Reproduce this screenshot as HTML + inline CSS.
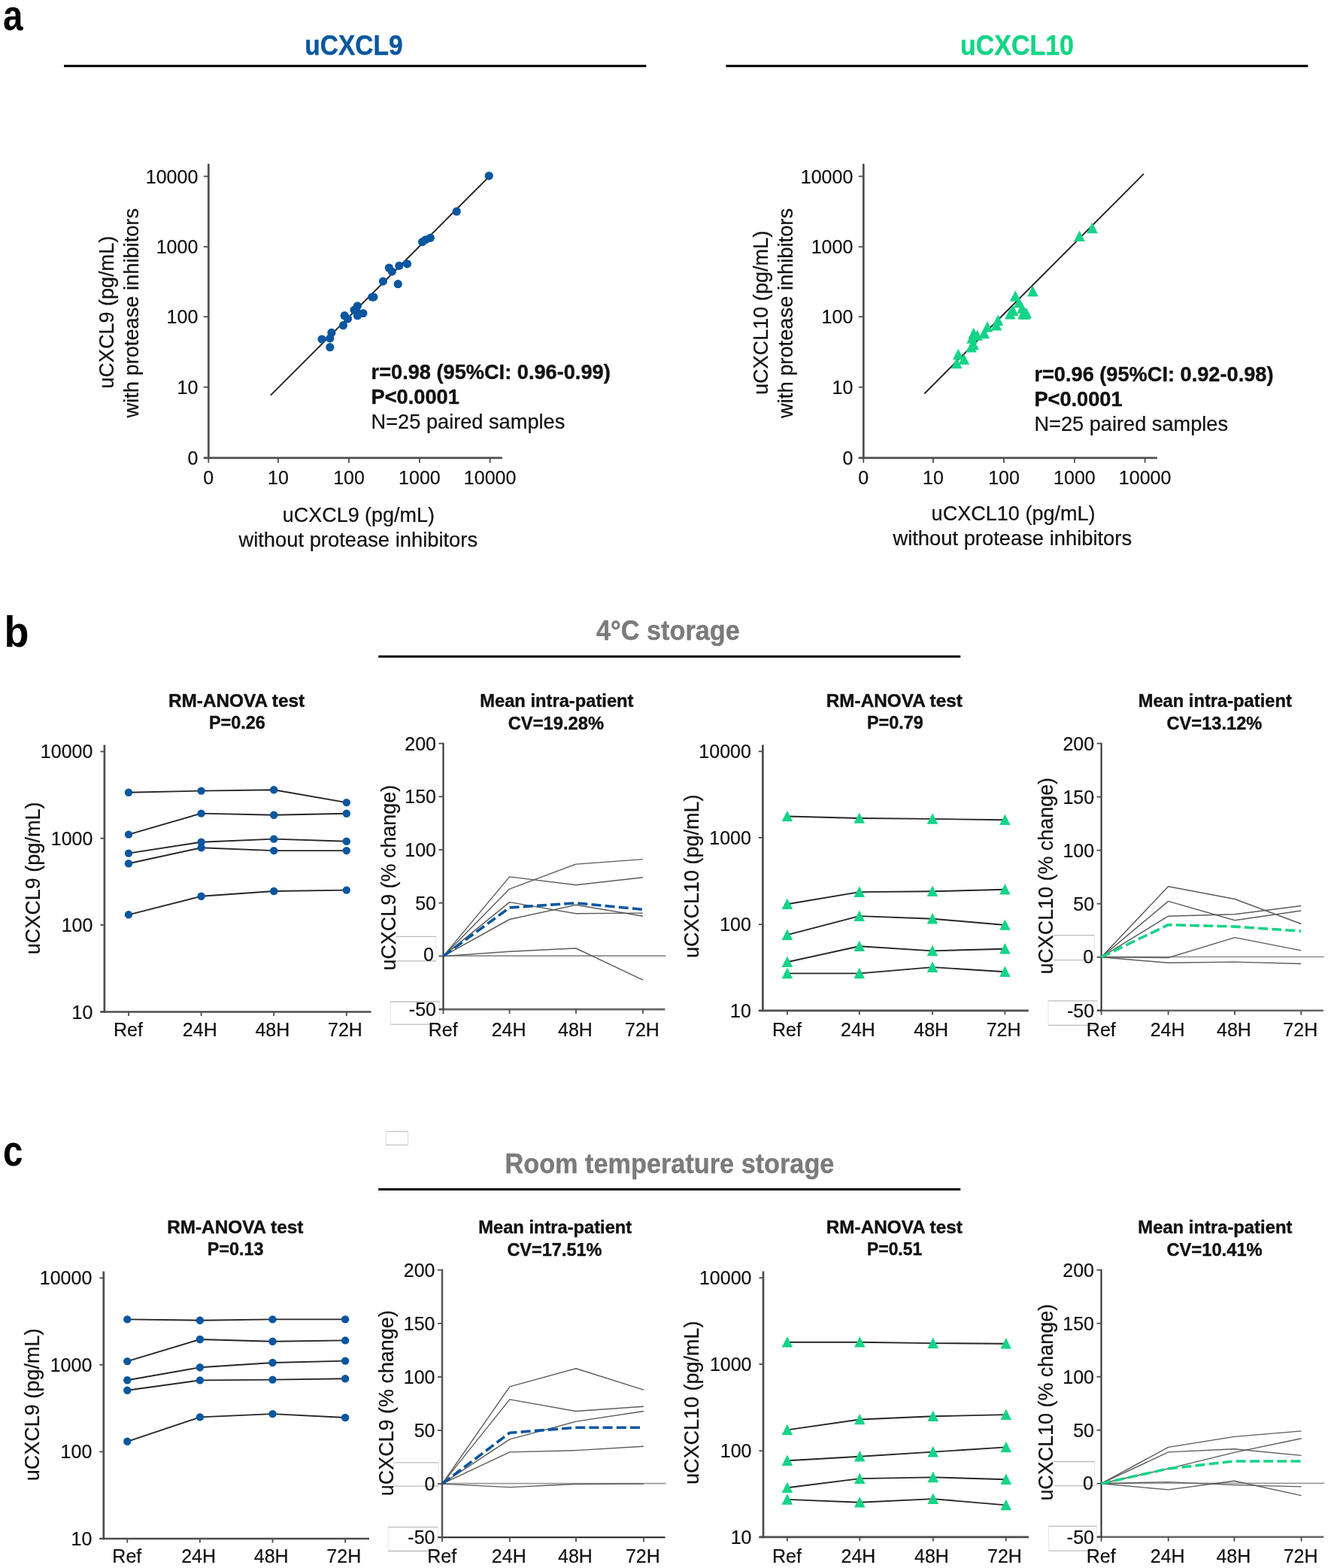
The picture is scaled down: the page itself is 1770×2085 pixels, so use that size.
<!DOCTYPE html>
<html><head><meta charset="utf-8"><title>Figure</title>
<style>
html,body{margin:0;padding:0;background:#fff;}
body{width:1770px;height:2085px;overflow:hidden;}
svg{display:block;}
svg text{font-family:"Liberation Sans",Arial,Helvetica,sans-serif;}
</style></head>
<body>
<svg xmlns="http://www.w3.org/2000/svg" width="1770" height="2085" viewBox="0 0 1770 2085">
<rect x="0" y="0" width="1770" height="2085" fill="#fff"/>
<text transform="translate(4,40) scale(0.82,1)" font-size="58" font-weight="bold" fill="#000">a</text>
<text x="405.3" y="72.8" font-size="36" font-weight="bold" fill="#0b57a0" stroke="#0b57a0" stroke-width="0.4" textLength="130.31" lengthAdjust="spacingAndGlyphs">uCXCL9</text>
<line x1="85" y1="87.7" x2="859.3" y2="87.7" stroke="#000" stroke-width="3" />
<text x="1277" y="72.8" font-size="36" font-weight="bold" fill="#12d585" stroke="#12d585" stroke-width="0.4" textLength="150.91" lengthAdjust="spacingAndGlyphs">uCXCL10</text>
<line x1="965.4" y1="87.7" x2="1739.4" y2="87.7" stroke="#000" stroke-width="3" />
<line x1="277.3" y1="217.8" x2="277.3" y2="610.2" stroke="#4d4d4d" stroke-width="2.7" />
<line x1="270.8" y1="608.9" x2="667.8" y2="608.9" stroke="#4d4d4d" stroke-width="2.7" />
<line x1="270.8" y1="608.9" x2="277.3" y2="608.9" stroke="#4d4d4d" stroke-width="1.8" />
<text x="263.3" y="617.9" font-size="25" text-anchor="end" fill="#111" stroke="#111" stroke-width="0.22" >0</text>
<line x1="270.8" y1="514.8" x2="277.3" y2="514.8" stroke="#4d4d4d" stroke-width="1.8" />
<text x="263.3" y="523.8" font-size="25" text-anchor="end" fill="#111" stroke="#111" stroke-width="0.22" >10</text>
<line x1="270.8" y1="421.2" x2="277.3" y2="421.2" stroke="#4d4d4d" stroke-width="1.8" />
<text x="263.3" y="430.2" font-size="25" text-anchor="end" fill="#111" stroke="#111" stroke-width="0.22" >100</text>
<line x1="270.8" y1="328.2" x2="277.3" y2="328.2" stroke="#4d4d4d" stroke-width="1.8" />
<text x="263.3" y="337.2" font-size="25" text-anchor="end" fill="#111" stroke="#111" stroke-width="0.22" >1000</text>
<line x1="270.8" y1="234.5" x2="277.3" y2="234.5" stroke="#4d4d4d" stroke-width="1.8" />
<text x="263.3" y="243.5" font-size="25" text-anchor="end" fill="#111" stroke="#111" stroke-width="0.22" >10000</text>
<line x1="277.3" y1="608.9" x2="277.3" y2="615.4" stroke="#4d4d4d" stroke-width="1.8" />
<text x="277.3" y="643.5" font-size="25" text-anchor="middle" fill="#111" stroke="#111" stroke-width="0.22" >0</text>
<line x1="369.9" y1="608.9" x2="369.9" y2="615.4" stroke="#4d4d4d" stroke-width="1.8" />
<text x="369.9" y="643.5" font-size="25" text-anchor="middle" fill="#111" stroke="#111" stroke-width="0.22" >10</text>
<line x1="464" y1="608.9" x2="464" y2="615.4" stroke="#4d4d4d" stroke-width="1.8" />
<text x="464" y="643.5" font-size="25" text-anchor="middle" fill="#111" stroke="#111" stroke-width="0.22" >100</text>
<line x1="557.9" y1="608.9" x2="557.9" y2="615.4" stroke="#4d4d4d" stroke-width="1.8" />
<text x="557.9" y="643.5" font-size="25" text-anchor="middle" fill="#111" stroke="#111" stroke-width="0.22" >1000</text>
<line x1="651.6" y1="608.9" x2="651.6" y2="615.4" stroke="#4d4d4d" stroke-width="1.8" />
<text x="651.6" y="643.5" font-size="25" text-anchor="middle" fill="#111" stroke="#111" stroke-width="0.22" >10000</text>
<line x1="359.9" y1="525.6" x2="651.4" y2="233.8" stroke="#222" stroke-width="1.9" />
<circle cx="650.3" cy="233.8" r="5.6" fill="#0a56a0"/>
<circle cx="607.2" cy="281.2" r="5.6" fill="#0a56a0"/>
<circle cx="561.6" cy="321.7" r="5.6" fill="#0a56a0"/>
<circle cx="565.9" cy="318.9" r="5.6" fill="#0a56a0"/>
<circle cx="572.3" cy="316.3" r="5.6" fill="#0a56a0"/>
<circle cx="517.4" cy="356.2" r="5.6" fill="#0a56a0"/>
<circle cx="521.3" cy="361.1" r="5.6" fill="#0a56a0"/>
<circle cx="530.8" cy="353.4" r="5.6" fill="#0a56a0"/>
<circle cx="541.5" cy="350.8" r="5.6" fill="#0a56a0"/>
<circle cx="509.4" cy="374.1" r="5.6" fill="#0a56a0"/>
<circle cx="529.3" cy="377.7" r="5.6" fill="#0a56a0"/>
<circle cx="494.8" cy="395" r="5.6" fill="#0a56a0"/>
<circle cx="496.9" cy="395" r="5.6" fill="#0a56a0"/>
<circle cx="475.4" cy="406.8" r="5.6" fill="#0a56a0"/>
<circle cx="471.1" cy="412.2" r="5.6" fill="#0a56a0"/>
<circle cx="475.4" cy="419.7" r="5.6" fill="#0a56a0"/>
<circle cx="482.9" cy="416.5" r="5.6" fill="#0a56a0"/>
<circle cx="458.2" cy="419.7" r="5.6" fill="#0a56a0"/>
<circle cx="462.5" cy="424" r="5.6" fill="#0a56a0"/>
<circle cx="456.4" cy="432.7" r="5.6" fill="#0a56a0"/>
<circle cx="440.9" cy="442.4" r="5.6" fill="#0a56a0"/>
<circle cx="438.8" cy="449.9" r="5.6" fill="#0a56a0"/>
<circle cx="428" cy="451" r="5.6" fill="#0a56a0"/>
<circle cx="438.8" cy="461.7" r="5.6" fill="#0a56a0"/>
<circle cx="474" cy="414" r="5.6" fill="#0a56a0"/>
<text x="375.8" y="693.7" font-size="27.3" fill="#111" stroke="#111" stroke-width="0.22" textLength="202.10" lengthAdjust="spacingAndGlyphs">uCXCL9 (pg/mL)</text>
<text x="317.4" y="726.6" font-size="27.3" fill="#111" stroke="#111" stroke-width="0.22" textLength="317.74" lengthAdjust="spacingAndGlyphs">without protease inhibitors</text>
<text transform="translate(151.2,516.7) rotate(-90)" x="0" y="0" font-size="27.3" fill="#111" stroke="#111" stroke-width="0.22" textLength="202.90" lengthAdjust="spacingAndGlyphs">uCXCL9 (pg/mL)</text>
<text transform="translate(184.2,555.5) rotate(-90)" x="0" y="0" font-size="27.3" fill="#111" stroke="#111" stroke-width="0.22" textLength="278.53" lengthAdjust="spacingAndGlyphs">with protease inhibitors</text>
<text x="493.6" y="504.2" font-size="27.2" text-anchor="start" font-weight="bold" fill="#111" stroke="#111" stroke-width="0.4" >r=0.98 (95%CI: 0.96-0.99)</text>
<text x="493.6" y="536.7" font-size="27.2" text-anchor="start" font-weight="bold" fill="#111" stroke="#111" stroke-width="0.4" >P&lt;0.0001</text>
<text x="493.6" y="569.8" font-size="27.2" text-anchor="start" fill="#111" stroke="#111" stroke-width="0.22" >N=25 paired samples</text>
<line x1="1148.3" y1="217.8" x2="1148.3" y2="610.2" stroke="#4d4d4d" stroke-width="2.7" />
<line x1="1141.8" y1="608.9" x2="1538.8" y2="608.9" stroke="#4d4d4d" stroke-width="2.7" />
<line x1="1141.8" y1="608.9" x2="1148.3" y2="608.9" stroke="#4d4d4d" stroke-width="1.8" />
<text x="1134.3" y="617.9" font-size="25" text-anchor="end" fill="#111" stroke="#111" stroke-width="0.22" >0</text>
<line x1="1141.8" y1="514.8" x2="1148.3" y2="514.8" stroke="#4d4d4d" stroke-width="1.8" />
<text x="1134.3" y="523.8" font-size="25" text-anchor="end" fill="#111" stroke="#111" stroke-width="0.22" >10</text>
<line x1="1141.8" y1="421.2" x2="1148.3" y2="421.2" stroke="#4d4d4d" stroke-width="1.8" />
<text x="1134.3" y="430.2" font-size="25" text-anchor="end" fill="#111" stroke="#111" stroke-width="0.22" >100</text>
<line x1="1141.8" y1="328.2" x2="1148.3" y2="328.2" stroke="#4d4d4d" stroke-width="1.8" />
<text x="1134.3" y="337.2" font-size="25" text-anchor="end" fill="#111" stroke="#111" stroke-width="0.22" >1000</text>
<line x1="1141.8" y1="234.5" x2="1148.3" y2="234.5" stroke="#4d4d4d" stroke-width="1.8" />
<text x="1134.3" y="243.5" font-size="25" text-anchor="end" fill="#111" stroke="#111" stroke-width="0.22" >10000</text>
<line x1="1148.3" y1="608.9" x2="1148.3" y2="615.4" stroke="#4d4d4d" stroke-width="1.8" />
<text x="1148.3" y="643.5" font-size="25" text-anchor="middle" fill="#111" stroke="#111" stroke-width="0.22" >0</text>
<line x1="1240.9" y1="608.9" x2="1240.9" y2="615.4" stroke="#4d4d4d" stroke-width="1.8" />
<text x="1240.9" y="643.5" font-size="25" text-anchor="middle" fill="#111" stroke="#111" stroke-width="0.22" >10</text>
<line x1="1335" y1="608.9" x2="1335" y2="615.4" stroke="#4d4d4d" stroke-width="1.8" />
<text x="1335" y="643.5" font-size="25" text-anchor="middle" fill="#111" stroke="#111" stroke-width="0.22" >100</text>
<line x1="1428.9" y1="608.9" x2="1428.9" y2="615.4" stroke="#4d4d4d" stroke-width="1.8" />
<text x="1428.9" y="643.5" font-size="25" text-anchor="middle" fill="#111" stroke="#111" stroke-width="0.22" >1000</text>
<line x1="1522.6" y1="608.9" x2="1522.6" y2="615.4" stroke="#4d4d4d" stroke-width="1.8" />
<text x="1522.6" y="643.5" font-size="25" text-anchor="middle" fill="#111" stroke="#111" stroke-width="0.22" >10000</text>
<line x1="1229.3" y1="523.5" x2="1521" y2="231.2" stroke="#222" stroke-width="1.9" />
<path d="M1452.5,295.8L1459.8,310.2L1445.2,310.2Z" fill="#14d487"/>
<path d="M1435.5,306.6L1442.8,321L1428.2,321Z" fill="#14d487"/>
<path d="M1373.4,379.8L1380.7,394.2L1366.1,394.2Z" fill="#14d487"/>
<path d="M1350.2,386.3L1357.5,400.7L1342.9,400.7Z" fill="#14d487"/>
<path d="M1355.1,394.9L1362.4,409.3L1347.8,409.3Z" fill="#14d487"/>
<path d="M1359.4,402.4L1366.7,416.8L1352.1,416.8Z" fill="#14d487"/>
<path d="M1364.8,408.9L1372.1,423.3L1357.5,423.3Z" fill="#14d487"/>
<path d="M1360.5,410L1367.8,424.4L1353.2,424.4Z" fill="#14d487"/>
<path d="M1343.3,410L1350.6,424.4L1336,424.4Z" fill="#14d487"/>
<path d="M1327.1,418.6L1334.4,433L1319.8,433Z" fill="#14d487"/>
<path d="M1325,425.1L1332.3,439.5L1317.7,439.5Z" fill="#14d487"/>
<path d="M1313.1,427.2L1320.4,441.6L1305.8,441.6Z" fill="#14d487"/>
<path d="M1308.8,435.8L1316.1,450.2L1301.5,450.2Z" fill="#14d487"/>
<path d="M1294.8,435.8L1302.1,450.2L1287.5,450.2Z" fill="#14d487"/>
<path d="M1292.6,442.3L1299.9,456.7L1285.3,456.7Z" fill="#14d487"/>
<path d="M1294.8,450.9L1302.1,465.3L1287.5,465.3Z" fill="#14d487"/>
<path d="M1291.6,454.1L1298.9,468.5L1284.3,468.5Z" fill="#14d487"/>
<path d="M1274.3,463.8L1281.6,478.2L1267,478.2Z" fill="#14d487"/>
<path d="M1281.9,470.3L1289.2,484.7L1274.6,484.7Z" fill="#14d487"/>
<path d="M1272.2,475.7L1279.5,490.1L1264.9,490.1Z" fill="#14d487"/>
<path d="M1299.7,438.4L1307,452.8L1292.4,452.8Z" fill="#14d487"/>
<path d="M1347.1,405.6L1354.4,420L1339.8,420Z" fill="#14d487"/>
<path d="M1363.3,410.4L1370.6,424.8L1356,424.8Z" fill="#14d487"/>
<text x="1238.6" y="692" font-size="27.3" fill="#111" stroke="#111" stroke-width="0.22" textLength="218.00" lengthAdjust="spacingAndGlyphs">uCXCL10 (pg/mL)</text>
<text x="1187.4" y="724.8" font-size="27.3" fill="#111" stroke="#111" stroke-width="0.22" textLength="317.74" lengthAdjust="spacingAndGlyphs">without protease inhibitors</text>
<text transform="translate(1020.7,525.1) rotate(-90)" x="0" y="0" font-size="27.3" fill="#111" stroke="#111" stroke-width="0.22" textLength="218.30" lengthAdjust="spacingAndGlyphs">uCXCL10 (pg/mL)</text>
<text transform="translate(1053.7,555.9) rotate(-90)" x="0" y="0" font-size="27.3" fill="#111" stroke="#111" stroke-width="0.22" textLength="278.93" lengthAdjust="spacingAndGlyphs">with protease inhibitors</text>
<text x="1375.4" y="507.2" font-size="27.2" text-anchor="start" font-weight="bold" fill="#111" stroke="#111" stroke-width="0.4" >r=0.96 (95%CI: 0.92-0.98)</text>
<text x="1375.4" y="539.7" font-size="27.2" text-anchor="start" font-weight="bold" fill="#111" stroke="#111" stroke-width="0.4" >P&lt;0.0001</text>
<text x="1375.4" y="572.8" font-size="27.2" text-anchor="start" fill="#111" stroke="#111" stroke-width="0.22" >N=25 paired samples</text>
<text transform="translate(5.5,859.5) scale(0.93,1)" font-size="58" font-weight="bold" fill="#000">b</text>
<text x="793" y="851.4" font-size="36" font-weight="bold" fill="#7b7b7b" stroke="#7b7b7b" stroke-width="0.4" textLength="190.81" lengthAdjust="spacingAndGlyphs">4°C storage</text>
<line x1="503.2" y1="873" x2="1277.3" y2="873" stroke="#000" stroke-width="3" />
<text transform="translate(4,1549.7) scale(0.82,1)" font-size="58" font-weight="bold" fill="#000">c</text>
<text x="671.5" y="1560.4" font-size="36" font-weight="bold" fill="#7b7b7b" stroke="#7b7b7b" stroke-width="0.4" textLength="437.89" lengthAdjust="spacingAndGlyphs">Room temperature storage</text>
<line x1="503.2" y1="1581.6" x2="1277.3" y2="1581.6" stroke="#000" stroke-width="3" />
<line x1="513.2" y1="1504.5" x2="513.2" y2="1522.5" stroke="#d8d8d8" stroke-width="1"/>
<line x1="542.6" y1="1504.5" x2="542.6" y2="1522.5" stroke="#d8d8d8" stroke-width="1"/>
<line x1="513.2" y1="1504.5" x2="542.6" y2="1504.5" stroke="#c4c4c4" stroke-width="1.4"/>
<line x1="513.2" y1="1522.5" x2="542.6" y2="1522.5" stroke="#c4c4c4" stroke-width="1.4"/>
<line x1="138.9" y1="990.4" x2="138.9" y2="1346.8" stroke="#4d4d4d" stroke-width="2.7" />
<line x1="133.4" y1="1345.5" x2="493.5" y2="1345.5" stroke="#4d4d4d" stroke-width="2.7" />
<line x1="133.4" y1="1345.5" x2="138.9" y2="1345.5" stroke="#4d4d4d" stroke-width="1.8" />
<text x="123.4" y="1354.5" font-size="25" text-anchor="end" fill="#111" stroke="#111" stroke-width="0.22" >10</text>
<line x1="133.4" y1="1229.9" x2="138.9" y2="1229.9" stroke="#4d4d4d" stroke-width="1.8" />
<text x="123.4" y="1238.9" font-size="25" text-anchor="end" fill="#111" stroke="#111" stroke-width="0.22" >100</text>
<line x1="133.4" y1="1114.8" x2="138.9" y2="1114.8" stroke="#4d4d4d" stroke-width="1.8" />
<text x="123.4" y="1123.8" font-size="25" text-anchor="end" fill="#111" stroke="#111" stroke-width="0.22" >1000</text>
<line x1="133.4" y1="999.4" x2="138.9" y2="999.4" stroke="#4d4d4d" stroke-width="1.8" />
<text x="123.4" y="1008.4" font-size="25" text-anchor="end" fill="#111" stroke="#111" stroke-width="0.22" >10000</text>
<line x1="171" y1="1345.5" x2="171" y2="1351" stroke="#4d4d4d" stroke-width="1.8" />
<text x="170.5" y="1378.2" font-size="25" text-anchor="middle" fill="#111" stroke="#111" stroke-width="0.22" >Ref</text>
<line x1="267.6" y1="1345.5" x2="267.6" y2="1351" stroke="#4d4d4d" stroke-width="1.8" />
<text x="265.8" y="1378.2" font-size="25" text-anchor="middle" fill="#111" stroke="#111" stroke-width="0.22" >24H</text>
<line x1="364.2" y1="1345.5" x2="364.2" y2="1351" stroke="#4d4d4d" stroke-width="1.8" />
<text x="362.4" y="1378.2" font-size="25" text-anchor="middle" fill="#111" stroke="#111" stroke-width="0.22" >48H</text>
<line x1="460.8" y1="1345.5" x2="460.8" y2="1351" stroke="#4d4d4d" stroke-width="1.8" />
<text x="459" y="1378.2" font-size="25" text-anchor="middle" fill="#111" stroke="#111" stroke-width="0.22" >72H</text>
<polyline points="171,1053.8 267.6,1051.6 364.2,1050.3 460.8,1067.1" fill="none" stroke="#262626" stroke-width="1.9" stroke-linejoin="round" />
<circle cx="171" cy="1053.8" r="5.2" fill="#0a56a0"/>
<circle cx="267.6" cy="1051.6" r="5.2" fill="#0a56a0"/>
<circle cx="364.2" cy="1050.3" r="5.2" fill="#0a56a0"/>
<circle cx="460.8" cy="1067.1" r="5.2" fill="#0a56a0"/>
<polyline points="171,1109.6 267.6,1081.6 364.2,1083.7 460.8,1081.8" fill="none" stroke="#262626" stroke-width="1.9" stroke-linejoin="round" />
<circle cx="171" cy="1109.6" r="5.2" fill="#0a56a0"/>
<circle cx="267.6" cy="1081.6" r="5.2" fill="#0a56a0"/>
<circle cx="364.2" cy="1083.7" r="5.2" fill="#0a56a0"/>
<circle cx="460.8" cy="1081.8" r="5.2" fill="#0a56a0"/>
<polyline points="171,1134.6 267.6,1119.7 364.2,1115.6 460.8,1118.8" fill="none" stroke="#262626" stroke-width="1.9" stroke-linejoin="round" />
<circle cx="171" cy="1134.6" r="5.2" fill="#0a56a0"/>
<circle cx="267.6" cy="1119.7" r="5.2" fill="#0a56a0"/>
<circle cx="364.2" cy="1115.6" r="5.2" fill="#0a56a0"/>
<circle cx="460.8" cy="1118.8" r="5.2" fill="#0a56a0"/>
<polyline points="171,1148.2 267.6,1127.3 364.2,1131.1 460.8,1131.1" fill="none" stroke="#262626" stroke-width="1.9" stroke-linejoin="round" />
<circle cx="171" cy="1148.2" r="5.2" fill="#0a56a0"/>
<circle cx="267.6" cy="1127.3" r="5.2" fill="#0a56a0"/>
<circle cx="364.2" cy="1131.1" r="5.2" fill="#0a56a0"/>
<circle cx="460.8" cy="1131.1" r="5.2" fill="#0a56a0"/>
<polyline points="171,1216.3 267.6,1191.8 364.2,1185 460.8,1183.6" fill="none" stroke="#262626" stroke-width="1.9" stroke-linejoin="round" />
<circle cx="171" cy="1216.3" r="5.2" fill="#0a56a0"/>
<circle cx="267.6" cy="1191.8" r="5.2" fill="#0a56a0"/>
<circle cx="364.2" cy="1185" r="5.2" fill="#0a56a0"/>
<circle cx="460.8" cy="1183.6" r="5.2" fill="#0a56a0"/>
<text x="224" y="939.9" font-size="24.5" font-weight="bold" fill="#111" stroke="#111" stroke-width="0.4" textLength="181.11" lengthAdjust="spacingAndGlyphs">RM-ANOVA test</text>
<text x="277.9" y="969.4" font-size="24.5" font-weight="bold" fill="#111" stroke="#111" stroke-width="0.4" textLength="74.91" lengthAdjust="spacingAndGlyphs">P=0.26</text>
<text transform="translate(52.9,1269.3) rotate(-90)" x="0" y="0" font-size="27.3" fill="#111" stroke="#111" stroke-width="0.22" textLength="202.80" lengthAdjust="spacingAndGlyphs">uCXCL9 (pg/mL)</text>
<line x1="526.5" y1="1245.4" x2="526.5" y2="1277.9" stroke="#e6e6e6" stroke-width="1"/>
<line x1="579.9" y1="1245.4" x2="579.9" y2="1277.9" stroke="#e6e6e6" stroke-width="1"/>
<line x1="526.5" y1="1245.4" x2="579.9" y2="1245.4" stroke="#bdbdbd" stroke-width="1.3"/>
<line x1="526.5" y1="1277.9" x2="579.9" y2="1277.9" stroke="#bdbdbd" stroke-width="1.3"/>
<line x1="519.3" y1="1332" x2="519.3" y2="1362.1" stroke="#e6e6e6" stroke-width="1"/>
<line x1="584.7" y1="1332" x2="584.7" y2="1362.1" stroke="#e6e6e6" stroke-width="1"/>
<line x1="519.3" y1="1332" x2="584.7" y2="1332" stroke="#bdbdbd" stroke-width="1.3"/>
<line x1="519.3" y1="1362.1" x2="584.7" y2="1362.1" stroke="#bdbdbd" stroke-width="1.3"/>
<line x1="584" y1="1342.1" x2="884.4" y2="1342.1" stroke="#666" stroke-width="2.6" />
<line x1="589.5" y1="987.8" x2="589.5" y2="1343.1" stroke="#2a2a2a" stroke-width="2.0" />
<line x1="583.5" y1="988.6" x2="589.5" y2="988.6" stroke="#4d4d4d" stroke-width="1.8" />
<text x="580" y="997.6" font-size="25" text-anchor="end" fill="#111" stroke="#111" stroke-width="0.22" >200</text>
<line x1="583.5" y1="1059.3" x2="589.5" y2="1059.3" stroke="#4d4d4d" stroke-width="1.8" />
<text x="580" y="1068.3" font-size="25" text-anchor="end" fill="#111" stroke="#111" stroke-width="0.22" >150</text>
<line x1="583.5" y1="1130" x2="589.5" y2="1130" stroke="#4d4d4d" stroke-width="1.8" />
<text x="580" y="1139" font-size="25" text-anchor="end" fill="#111" stroke="#111" stroke-width="0.22" >100</text>
<line x1="583.5" y1="1200.7" x2="589.5" y2="1200.7" stroke="#4d4d4d" stroke-width="1.8" />
<text x="580" y="1209.7" font-size="25" text-anchor="end" fill="#111" stroke="#111" stroke-width="0.22" >50</text>
<line x1="583.5" y1="1271.4" x2="589.5" y2="1271.4" stroke="#4d4d4d" stroke-width="1.8" />
<text x="577" y="1278.4" font-size="25" text-anchor="end" fill="#111" stroke="#111" stroke-width="0.22" >0</text>
<line x1="583.5" y1="1342.1" x2="589.5" y2="1342.1" stroke="#4d4d4d" stroke-width="1.8" />
<text x="580" y="1351.1" font-size="25" text-anchor="end" fill="#111" stroke="#111" stroke-width="0.22" >-50</text>
<line x1="589.5" y1="1342.1" x2="589.5" y2="1348.1" stroke="#4d4d4d" stroke-width="1.8" />
<text x="589.2" y="1378.2" font-size="25" text-anchor="middle" fill="#111" stroke="#111" stroke-width="0.22" >Ref</text>
<line x1="677.6" y1="1342.1" x2="677.6" y2="1348.1" stroke="#4d4d4d" stroke-width="1.8" />
<text x="676.6" y="1378.2" font-size="25" text-anchor="middle" fill="#111" stroke="#111" stroke-width="0.22" >24H</text>
<line x1="766" y1="1342.1" x2="766" y2="1348.1" stroke="#4d4d4d" stroke-width="1.8" />
<text x="765" y="1378.2" font-size="25" text-anchor="middle" fill="#111" stroke="#111" stroke-width="0.22" >48H</text>
<line x1="855" y1="1342.1" x2="855" y2="1348.1" stroke="#4d4d4d" stroke-width="1.8" />
<text x="854" y="1378.2" font-size="25" text-anchor="middle" fill="#111" stroke="#111" stroke-width="0.22" >72H</text>
<line x1="589.5" y1="1271" x2="885.4" y2="1271" stroke="#9a9a9a" stroke-width="1.8" />
<polyline points="589.5,1271.4 677.6,1165.9 766,1176.8 855,1166.7" fill="none" stroke="#5c5c5c" stroke-width="1.45" stroke-linejoin="round" />
<polyline points="589.5,1271.4 677.6,1182.1 766,1149.1 855,1142.6" fill="none" stroke="#5c5c5c" stroke-width="1.45" stroke-linejoin="round" />
<polyline points="589.5,1271.4 677.6,1199.6 766,1214.8 855,1214.1" fill="none" stroke="#5c5c5c" stroke-width="1.45" stroke-linejoin="round" />
<polyline points="589.5,1271.4 677.6,1222.5 766,1203.2 855,1218.2" fill="none" stroke="#5c5c5c" stroke-width="1.45" stroke-linejoin="round" />
<polyline points="589.5,1271.4 677.6,1265.3 766,1261 855,1303.1" fill="none" stroke="#5c5c5c" stroke-width="1.45" stroke-linejoin="round" />
<polyline points="589.5,1271.4 677.6,1206.9 766,1200.8 855,1209.3" fill="none" stroke="#0a56a0" stroke-width="3.6" stroke-linejoin="round" stroke-dasharray="13,5.2" stroke-linecap="butt"/>
<text x="638.2" y="939.7" font-size="24.5" font-weight="bold" fill="#111" stroke="#111" stroke-width="0.4" textLength="204.30" lengthAdjust="spacingAndGlyphs">Mean intra-patient</text>
<text x="675.7" y="969.8" font-size="24.5" font-weight="bold" fill="#111" stroke="#111" stroke-width="0.4" textLength="127.49" lengthAdjust="spacingAndGlyphs">CV=19.28%</text>
<text transform="translate(525.8,1290.5) rotate(-90)" x="0" y="0" font-size="27.3" fill="#111" stroke="#111" stroke-width="0.22" textLength="246.61" lengthAdjust="spacingAndGlyphs">uCXCL9 (% change)</text>
<line x1="1014.4" y1="990.4" x2="1014.4" y2="1345.2" stroke="#4d4d4d" stroke-width="2.7" />
<line x1="1008.9" y1="1343.9" x2="1367.8" y2="1343.9" stroke="#4d4d4d" stroke-width="2.7" />
<line x1="1008.9" y1="1343.9" x2="1014.4" y2="1343.9" stroke="#4d4d4d" stroke-width="1.8" />
<text x="998.9" y="1352.9" font-size="25" text-anchor="end" fill="#111" stroke="#111" stroke-width="0.22" >10</text>
<line x1="1008.9" y1="1229.2" x2="1014.4" y2="1229.2" stroke="#4d4d4d" stroke-width="1.8" />
<text x="998.9" y="1238.2" font-size="25" text-anchor="end" fill="#111" stroke="#111" stroke-width="0.22" >100</text>
<line x1="1008.9" y1="1113.9" x2="1014.4" y2="1113.9" stroke="#4d4d4d" stroke-width="1.8" />
<text x="998.9" y="1122.9" font-size="25" text-anchor="end" fill="#111" stroke="#111" stroke-width="0.22" >1000</text>
<line x1="1008.9" y1="999.2" x2="1014.4" y2="999.2" stroke="#4d4d4d" stroke-width="1.8" />
<text x="998.9" y="1008.2" font-size="25" text-anchor="end" fill="#111" stroke="#111" stroke-width="0.22" >10000</text>
<line x1="1046.9" y1="1343.9" x2="1046.9" y2="1349.4" stroke="#4d4d4d" stroke-width="1.8" />
<text x="1046.4" y="1378.2" font-size="25" text-anchor="middle" fill="#111" stroke="#111" stroke-width="0.22" >Ref</text>
<line x1="1142.8" y1="1343.9" x2="1142.8" y2="1349.4" stroke="#4d4d4d" stroke-width="1.8" />
<text x="1141" y="1378.2" font-size="25" text-anchor="middle" fill="#111" stroke="#111" stroke-width="0.22" >24H</text>
<line x1="1240" y1="1343.9" x2="1240" y2="1349.4" stroke="#4d4d4d" stroke-width="1.8" />
<text x="1238.2" y="1378.2" font-size="25" text-anchor="middle" fill="#111" stroke="#111" stroke-width="0.22" >48H</text>
<line x1="1336.4" y1="1343.9" x2="1336.4" y2="1349.4" stroke="#4d4d4d" stroke-width="1.8" />
<text x="1334.6" y="1378.2" font-size="25" text-anchor="middle" fill="#111" stroke="#111" stroke-width="0.22" >72H</text>
<polyline points="1046.9,1085.5 1142.8,1088 1240,1088.9 1336.4,1090.3" fill="none" stroke="#262626" stroke-width="1.9" stroke-linejoin="round" />
<path d="M1046.9,1077.9L1054.2,1092.3L1039.6,1092.3Z" fill="#14d487"/>
<path d="M1142.8,1080.4L1150.1,1094.8L1135.5,1094.8Z" fill="#14d487"/>
<path d="M1240,1081.3L1247.3,1095.7L1232.7,1095.7Z" fill="#14d487"/>
<path d="M1336.4,1082.7L1343.7,1097.1L1329.1,1097.1Z" fill="#14d487"/>
<polyline points="1046.9,1202.2 1142.8,1186.1 1240,1185.3 1336.4,1182.8" fill="none" stroke="#262626" stroke-width="1.9" stroke-linejoin="round" />
<path d="M1046.9,1194.6L1054.2,1209L1039.6,1209Z" fill="#14d487"/>
<path d="M1142.8,1178.5L1150.1,1192.9L1135.5,1192.9Z" fill="#14d487"/>
<path d="M1240,1177.7L1247.3,1192.1L1232.7,1192.1Z" fill="#14d487"/>
<path d="M1336.4,1175.2L1343.7,1189.6L1329.1,1189.6Z" fill="#14d487"/>
<polyline points="1046.9,1243.1 1142.8,1218.1 1240,1221.7 1336.4,1230" fill="none" stroke="#262626" stroke-width="1.9" stroke-linejoin="round" />
<path d="M1046.9,1235.5L1054.2,1249.9L1039.6,1249.9Z" fill="#14d487"/>
<path d="M1142.8,1210.5L1150.1,1224.9L1135.5,1224.9Z" fill="#14d487"/>
<path d="M1240,1214.1L1247.3,1228.5L1232.7,1228.5Z" fill="#14d487"/>
<path d="M1336.4,1222.4L1343.7,1236.8L1329.1,1236.8Z" fill="#14d487"/>
<polyline points="1046.9,1279.2 1142.8,1258.3 1240,1264.4 1336.4,1261.7" fill="none" stroke="#262626" stroke-width="1.9" stroke-linejoin="round" />
<path d="M1046.9,1271.6L1054.2,1286L1039.6,1286Z" fill="#14d487"/>
<path d="M1142.8,1250.7L1150.1,1265.1L1135.5,1265.1Z" fill="#14d487"/>
<path d="M1240,1256.8L1247.3,1271.2L1232.7,1271.2Z" fill="#14d487"/>
<path d="M1336.4,1254.1L1343.7,1268.5L1329.1,1268.5Z" fill="#14d487"/>
<polyline points="1046.9,1294.4 1142.8,1294.4 1240,1286.1 1336.4,1292.2" fill="none" stroke="#262626" stroke-width="1.9" stroke-linejoin="round" />
<path d="M1046.9,1286.8L1054.2,1301.2L1039.6,1301.2Z" fill="#14d487"/>
<path d="M1142.8,1286.8L1150.1,1301.2L1135.5,1301.2Z" fill="#14d487"/>
<path d="M1240,1278.5L1247.3,1292.9L1232.7,1292.9Z" fill="#14d487"/>
<path d="M1336.4,1284.6L1343.7,1299L1329.1,1299Z" fill="#14d487"/>
<text x="1098.8" y="939.9" font-size="24.5" font-weight="bold" fill="#111" stroke="#111" stroke-width="0.4" textLength="181.01" lengthAdjust="spacingAndGlyphs">RM-ANOVA test</text>
<text x="1153" y="969.4" font-size="24.5" font-weight="bold" fill="#111" stroke="#111" stroke-width="0.4" textLength="74.81" lengthAdjust="spacingAndGlyphs">P=0.79</text>
<text transform="translate(928.5,1274.1) rotate(-90)" x="0" y="0" font-size="27.3" fill="#111" stroke="#111" stroke-width="0.22" textLength="217.50" lengthAdjust="spacingAndGlyphs">uCXCL10 (pg/mL)</text>
<line x1="1401.3" y1="1243.7" x2="1401.3" y2="1276.7" stroke="#e6e6e6" stroke-width="1"/>
<line x1="1455.4" y1="1243.7" x2="1455.4" y2="1276.7" stroke="#e6e6e6" stroke-width="1"/>
<line x1="1401.3" y1="1243.7" x2="1455.4" y2="1243.7" stroke="#bdbdbd" stroke-width="1.3"/>
<line x1="1401.3" y1="1276.7" x2="1455.4" y2="1276.7" stroke="#bdbdbd" stroke-width="1.3"/>
<line x1="1394" y1="1330.8" x2="1394" y2="1363.3" stroke="#e6e6e6" stroke-width="1"/>
<line x1="1459" y1="1330.8" x2="1459" y2="1363.3" stroke="#e6e6e6" stroke-width="1"/>
<line x1="1394" y1="1330.8" x2="1459" y2="1330.8" stroke="#bdbdbd" stroke-width="1.3"/>
<line x1="1394" y1="1363.3" x2="1459" y2="1363.3" stroke="#bdbdbd" stroke-width="1.3"/>
<line x1="1459.1" y1="1343.7" x2="1759.9" y2="1343.7" stroke="#666" stroke-width="2.6" />
<line x1="1464.6" y1="987.8" x2="1464.6" y2="1344.7" stroke="#2a2a2a" stroke-width="2.0" />
<line x1="1458.6" y1="988.6" x2="1464.6" y2="988.6" stroke="#4d4d4d" stroke-width="1.8" />
<text x="1455.1" y="997.6" font-size="25" text-anchor="end" fill="#111" stroke="#111" stroke-width="0.22" >200</text>
<line x1="1458.6" y1="1059.6" x2="1464.6" y2="1059.6" stroke="#4d4d4d" stroke-width="1.8" />
<text x="1455.1" y="1068.6" font-size="25" text-anchor="end" fill="#111" stroke="#111" stroke-width="0.22" >150</text>
<line x1="1458.6" y1="1130.6" x2="1464.6" y2="1130.6" stroke="#4d4d4d" stroke-width="1.8" />
<text x="1455.1" y="1139.6" font-size="25" text-anchor="end" fill="#111" stroke="#111" stroke-width="0.22" >100</text>
<line x1="1458.6" y1="1201.7" x2="1464.6" y2="1201.7" stroke="#4d4d4d" stroke-width="1.8" />
<text x="1455.1" y="1210.7" font-size="25" text-anchor="end" fill="#111" stroke="#111" stroke-width="0.22" >50</text>
<line x1="1458.6" y1="1272.7" x2="1464.6" y2="1272.7" stroke="#4d4d4d" stroke-width="1.8" />
<text x="1454.1" y="1280.7" font-size="25" text-anchor="end" fill="#111" stroke="#111" stroke-width="0.22" >0</text>
<line x1="1458.6" y1="1343.7" x2="1464.6" y2="1343.7" stroke="#4d4d4d" stroke-width="1.8" />
<text x="1455.1" y="1352.7" font-size="25" text-anchor="end" fill="#111" stroke="#111" stroke-width="0.22" >-50</text>
<line x1="1464.6" y1="1343.7" x2="1464.6" y2="1349.7" stroke="#4d4d4d" stroke-width="1.8" />
<text x="1464.3" y="1378.2" font-size="25" text-anchor="middle" fill="#111" stroke="#111" stroke-width="0.22" >Ref</text>
<line x1="1553.6" y1="1343.7" x2="1553.6" y2="1349.7" stroke="#4d4d4d" stroke-width="1.8" />
<text x="1552.6" y="1378.2" font-size="25" text-anchor="middle" fill="#111" stroke="#111" stroke-width="0.22" >24H</text>
<line x1="1642" y1="1343.7" x2="1642" y2="1349.7" stroke="#4d4d4d" stroke-width="1.8" />
<text x="1641" y="1378.2" font-size="25" text-anchor="middle" fill="#111" stroke="#111" stroke-width="0.22" >48H</text>
<line x1="1730.3" y1="1343.7" x2="1730.3" y2="1349.7" stroke="#4d4d4d" stroke-width="1.8" />
<text x="1729.3" y="1378.2" font-size="25" text-anchor="middle" fill="#111" stroke="#111" stroke-width="0.22" >72H</text>
<line x1="1464.6" y1="1272.3" x2="1760.9" y2="1272.3" stroke="#9a9a9a" stroke-width="1.8" />
<polyline points="1464.6,1272.7 1553.6,1178.7 1642,1195.5 1730.3,1228.5" fill="none" stroke="#5c5c5c" stroke-width="1.45" stroke-linejoin="round" />
<polyline points="1464.6,1272.7 1553.6,1198.4 1642,1223.7 1730.3,1211" fill="none" stroke="#5c5c5c" stroke-width="1.45" stroke-linejoin="round" />
<polyline points="1464.6,1272.7 1553.6,1218.2 1642,1215.8 1730.3,1204.5" fill="none" stroke="#5c5c5c" stroke-width="1.45" stroke-linejoin="round" />
<polyline points="1464.6,1272.7 1553.6,1273.5 1642,1246.6 1730.3,1263.9" fill="none" stroke="#5c5c5c" stroke-width="1.45" stroke-linejoin="round" />
<polyline points="1464.6,1272.7 1553.6,1280.3 1642,1279.1 1730.3,1281.5" fill="none" stroke="#5c5c5c" stroke-width="1.45" stroke-linejoin="round" />
<polyline points="1464.6,1272.7 1553.6,1229.7 1642,1232.1 1730.3,1238.1" fill="none" stroke="#14d487" stroke-width="3.6" stroke-linejoin="round" stroke-dasharray="13,5.2" stroke-linecap="butt"/>
<text x="1513.7" y="939.7" font-size="24.5" font-weight="bold" fill="#111" stroke="#111" stroke-width="0.4" textLength="204.10" lengthAdjust="spacingAndGlyphs">Mean intra-patient</text>
<text x="1551.5" y="969.8" font-size="24.5" font-weight="bold" fill="#111" stroke="#111" stroke-width="0.4" textLength="126.79" lengthAdjust="spacingAndGlyphs">CV=13.12%</text>
<text transform="translate(1400,1295.6) rotate(-90)" x="0" y="0" font-size="27.3" fill="#111" stroke="#111" stroke-width="0.22" textLength="261.69" lengthAdjust="spacingAndGlyphs">uCXCL10 (% change)</text>
<line x1="137.8" y1="1690.4" x2="137.8" y2="2047.3" stroke="#4d4d4d" stroke-width="2.7" />
<line x1="132.3" y1="2046" x2="491" y2="2046" stroke="#4d4d4d" stroke-width="2.7" />
<line x1="132.3" y1="2046" x2="137.8" y2="2046" stroke="#4d4d4d" stroke-width="1.8" />
<text x="122.3" y="2055" font-size="25" text-anchor="end" fill="#111" stroke="#111" stroke-width="0.22" >10</text>
<line x1="132.3" y1="1930.4" x2="137.8" y2="1930.4" stroke="#4d4d4d" stroke-width="1.8" />
<text x="122.3" y="1939.4" font-size="25" text-anchor="end" fill="#111" stroke="#111" stroke-width="0.22" >100</text>
<line x1="132.3" y1="1814.8" x2="137.8" y2="1814.8" stroke="#4d4d4d" stroke-width="1.8" />
<text x="122.3" y="1823.8" font-size="25" text-anchor="end" fill="#111" stroke="#111" stroke-width="0.22" >1000</text>
<line x1="132.3" y1="1699.4" x2="137.8" y2="1699.4" stroke="#4d4d4d" stroke-width="1.8" />
<text x="122.3" y="1708.4" font-size="25" text-anchor="end" fill="#111" stroke="#111" stroke-width="0.22" >10000</text>
<line x1="169.3" y1="2046" x2="169.3" y2="2051.5" stroke="#4d4d4d" stroke-width="1.8" />
<text x="168.8" y="2078.2" font-size="25" text-anchor="middle" fill="#111" stroke="#111" stroke-width="0.22" >Ref</text>
<line x1="265.9" y1="2046" x2="265.9" y2="2051.5" stroke="#4d4d4d" stroke-width="1.8" />
<text x="264.1" y="2078.2" font-size="25" text-anchor="middle" fill="#111" stroke="#111" stroke-width="0.22" >24H</text>
<line x1="362.5" y1="2046" x2="362.5" y2="2051.5" stroke="#4d4d4d" stroke-width="1.8" />
<text x="360.7" y="2078.2" font-size="25" text-anchor="middle" fill="#111" stroke="#111" stroke-width="0.22" >48H</text>
<line x1="459.1" y1="2046" x2="459.1" y2="2051.5" stroke="#4d4d4d" stroke-width="1.8" />
<text x="457.3" y="2078.2" font-size="25" text-anchor="middle" fill="#111" stroke="#111" stroke-width="0.22" >72H</text>
<polyline points="169.3,1754.4 265.9,1755.7 362.5,1754.4 459.1,1754.4" fill="none" stroke="#262626" stroke-width="1.9" stroke-linejoin="round" />
<circle cx="169.3" cy="1754.4" r="5.2" fill="#0a56a0"/>
<circle cx="265.9" cy="1755.7" r="5.2" fill="#0a56a0"/>
<circle cx="362.5" cy="1754.4" r="5.2" fill="#0a56a0"/>
<circle cx="459.1" cy="1754.4" r="5.2" fill="#0a56a0"/>
<polyline points="169.3,1810.1 265.9,1781 362.5,1783.7 459.1,1782.4" fill="none" stroke="#262626" stroke-width="1.9" stroke-linejoin="round" />
<circle cx="169.3" cy="1810.1" r="5.2" fill="#0a56a0"/>
<circle cx="265.9" cy="1781" r="5.2" fill="#0a56a0"/>
<circle cx="362.5" cy="1783.7" r="5.2" fill="#0a56a0"/>
<circle cx="459.1" cy="1782.4" r="5.2" fill="#0a56a0"/>
<polyline points="169.3,1835.2 265.9,1818.3 362.5,1812 459.1,1809.6" fill="none" stroke="#262626" stroke-width="1.9" stroke-linejoin="round" />
<circle cx="169.3" cy="1835.2" r="5.2" fill="#0a56a0"/>
<circle cx="265.9" cy="1818.3" r="5.2" fill="#0a56a0"/>
<circle cx="362.5" cy="1812" r="5.2" fill="#0a56a0"/>
<circle cx="459.1" cy="1809.6" r="5.2" fill="#0a56a0"/>
<polyline points="169.3,1848.8 265.9,1835.4 362.5,1834.6 459.1,1833.3" fill="none" stroke="#262626" stroke-width="1.9" stroke-linejoin="round" />
<circle cx="169.3" cy="1848.8" r="5.2" fill="#0a56a0"/>
<circle cx="265.9" cy="1835.4" r="5.2" fill="#0a56a0"/>
<circle cx="362.5" cy="1834.6" r="5.2" fill="#0a56a0"/>
<circle cx="459.1" cy="1833.3" r="5.2" fill="#0a56a0"/>
<polyline points="169.3,1916.8 265.9,1884.4 362.5,1880.1 459.1,1885" fill="none" stroke="#262626" stroke-width="1.9" stroke-linejoin="round" />
<circle cx="169.3" cy="1916.8" r="5.2" fill="#0a56a0"/>
<circle cx="265.9" cy="1884.4" r="5.2" fill="#0a56a0"/>
<circle cx="362.5" cy="1880.1" r="5.2" fill="#0a56a0"/>
<circle cx="459.1" cy="1885" r="5.2" fill="#0a56a0"/>
<text x="222.2" y="1639.9" font-size="24.5" font-weight="bold" fill="#111" stroke="#111" stroke-width="0.4" textLength="181.11" lengthAdjust="spacingAndGlyphs">RM-ANOVA test</text>
<text x="275.7" y="1669.4" font-size="24.5" font-weight="bold" fill="#111" stroke="#111" stroke-width="0.4" textLength="74.91" lengthAdjust="spacingAndGlyphs">P=0.13</text>
<text transform="translate(51.8,1969.3) rotate(-90)" x="0" y="0" font-size="27.3" fill="#111" stroke="#111" stroke-width="0.22" textLength="202.80" lengthAdjust="spacingAndGlyphs">uCXCL9 (pg/mL)</text>
<line x1="523.3" y1="1944.9" x2="523.3" y2="1976.2" stroke="#e6e6e6" stroke-width="1"/>
<line x1="583.5" y1="1944.9" x2="583.5" y2="1976.2" stroke="#e6e6e6" stroke-width="1"/>
<line x1="523.3" y1="1944.9" x2="583.5" y2="1944.9" stroke="#bdbdbd" stroke-width="1.3"/>
<line x1="523.3" y1="1976.2" x2="583.5" y2="1976.2" stroke="#bdbdbd" stroke-width="1.3"/>
<line x1="516.3" y1="2030.6" x2="516.3" y2="2062.5" stroke="#e6e6e6" stroke-width="1"/>
<line x1="582.1" y1="2030.6" x2="582.1" y2="2062.5" stroke="#e6e6e6" stroke-width="1"/>
<line x1="516.3" y1="2030.6" x2="582.1" y2="2030.6" stroke="#bdbdbd" stroke-width="1.3"/>
<line x1="516.3" y1="2062.5" x2="582.1" y2="2062.5" stroke="#bdbdbd" stroke-width="1.3"/>
<line x1="582.5" y1="2044.2" x2="884.6" y2="2044.2" stroke="#222" stroke-width="2.0" />
<line x1="588" y1="1687.8" x2="588" y2="2045.2" stroke="#5a5a5a" stroke-width="2.6" />
<line x1="582" y1="1688.7" x2="588" y2="1688.7" stroke="#4d4d4d" stroke-width="1.8" />
<text x="578.5" y="1697.7" font-size="25" text-anchor="end" fill="#111" stroke="#111" stroke-width="0.22" >200</text>
<line x1="582" y1="1759.8" x2="588" y2="1759.8" stroke="#4d4d4d" stroke-width="1.8" />
<text x="578.5" y="1768.8" font-size="25" text-anchor="end" fill="#111" stroke="#111" stroke-width="0.22" >150</text>
<line x1="582" y1="1830.9" x2="588" y2="1830.9" stroke="#4d4d4d" stroke-width="1.8" />
<text x="578.5" y="1839.9" font-size="25" text-anchor="end" fill="#111" stroke="#111" stroke-width="0.22" >100</text>
<line x1="582" y1="1902" x2="588" y2="1902" stroke="#4d4d4d" stroke-width="1.8" />
<text x="578.5" y="1911" font-size="25" text-anchor="end" fill="#111" stroke="#111" stroke-width="0.22" >50</text>
<line x1="582" y1="1973.1" x2="588" y2="1973.1" stroke="#4d4d4d" stroke-width="1.8" />
<text x="578.5" y="1982.1" font-size="25" text-anchor="end" fill="#111" stroke="#111" stroke-width="0.22" >0</text>
<line x1="582" y1="2044.2" x2="588" y2="2044.2" stroke="#4d4d4d" stroke-width="1.8" />
<text x="578.5" y="2053.2" font-size="25" text-anchor="end" fill="#111" stroke="#111" stroke-width="0.22" >-50</text>
<line x1="588" y1="2044.2" x2="588" y2="2050.2" stroke="#4d4d4d" stroke-width="1.8" />
<text x="587.7" y="2078.2" font-size="25" text-anchor="middle" fill="#111" stroke="#111" stroke-width="0.22" >Ref</text>
<line x1="677.8" y1="2044.2" x2="677.8" y2="2050.2" stroke="#4d4d4d" stroke-width="1.8" />
<text x="676.8" y="2078.2" font-size="25" text-anchor="middle" fill="#111" stroke="#111" stroke-width="0.22" >24H</text>
<line x1="766" y1="2044.2" x2="766" y2="2050.2" stroke="#4d4d4d" stroke-width="1.8" />
<text x="765" y="2078.2" font-size="25" text-anchor="middle" fill="#111" stroke="#111" stroke-width="0.22" >48H</text>
<line x1="855.9" y1="2044.2" x2="855.9" y2="2050.2" stroke="#4d4d4d" stroke-width="1.8" />
<text x="854.9" y="2078.2" font-size="25" text-anchor="middle" fill="#111" stroke="#111" stroke-width="0.22" >72H</text>
<line x1="588" y1="1972.7" x2="885.6" y2="1972.7" stroke="#9a9a9a" stroke-width="1.8" />
<polyline points="588,1973.1 677.8,1843.9 766,1819.8 855.9,1848.1" fill="none" stroke="#5c5c5c" stroke-width="1.45" stroke-linejoin="round" />
<polyline points="588,1973.1 677.8,1860.9 766,1876.5 855.9,1870.2" fill="none" stroke="#5c5c5c" stroke-width="1.45" stroke-linejoin="round" />
<polyline points="588,1973.1 677.8,1913.9 766,1890.1 855.9,1876.5" fill="none" stroke="#5c5c5c" stroke-width="1.45" stroke-linejoin="round" />
<polyline points="588,1973.1 677.8,1930.9 766,1928.6 855.9,1923.2" fill="none" stroke="#5c5c5c" stroke-width="1.45" stroke-linejoin="round" />
<polyline points="588,1973.1 677.8,1977.6 766,1973.4 855.9,1972.9" fill="none" stroke="#5c5c5c" stroke-width="1.45" stroke-linejoin="round" />
<polyline points="588,1973.1 677.8,1905.3 766,1898.2 855.9,1898.2" fill="none" stroke="#0a56a0" stroke-width="3.6" stroke-linejoin="round" stroke-dasharray="13,5.2" stroke-linecap="butt"/>
<text x="636.3" y="1639.7" font-size="24.5" font-weight="bold" fill="#111" stroke="#111" stroke-width="0.4" textLength="203.90" lengthAdjust="spacingAndGlyphs">Mean intra-patient</text>
<text x="674.4" y="1669.8" font-size="24.5" font-weight="bold" fill="#111" stroke="#111" stroke-width="0.4" textLength="126.09" lengthAdjust="spacingAndGlyphs">CV=17.51%</text>
<text transform="translate(522.6,1989.2) rotate(-90)" x="0" y="0" font-size="27.3" fill="#111" stroke="#111" stroke-width="0.22" textLength="246.91" lengthAdjust="spacingAndGlyphs">uCXCL9 (% change)</text>
<line x1="1015" y1="1690.4" x2="1015" y2="2045.2" stroke="#4d4d4d" stroke-width="2.7" />
<line x1="1009.5" y1="2043.9" x2="1368" y2="2043.9" stroke="#4d4d4d" stroke-width="2.7" />
<line x1="1009.5" y1="2043.9" x2="1015" y2="2043.9" stroke="#4d4d4d" stroke-width="1.8" />
<text x="999.5" y="2052.9" font-size="25" text-anchor="end" fill="#111" stroke="#111" stroke-width="0.22" >10</text>
<line x1="1009.5" y1="1929.2" x2="1015" y2="1929.2" stroke="#4d4d4d" stroke-width="1.8" />
<text x="999.5" y="1938.2" font-size="25" text-anchor="end" fill="#111" stroke="#111" stroke-width="0.22" >100</text>
<line x1="1009.5" y1="1813.9" x2="1015" y2="1813.9" stroke="#4d4d4d" stroke-width="1.8" />
<text x="999.5" y="1822.9" font-size="25" text-anchor="end" fill="#111" stroke="#111" stroke-width="0.22" >1000</text>
<line x1="1009.5" y1="1699.2" x2="1015" y2="1699.2" stroke="#4d4d4d" stroke-width="1.8" />
<text x="999.5" y="1708.2" font-size="25" text-anchor="end" fill="#111" stroke="#111" stroke-width="0.22" >10000</text>
<line x1="1046.9" y1="2043.9" x2="1046.9" y2="2049.4" stroke="#4d4d4d" stroke-width="1.8" />
<text x="1046.4" y="2078.2" font-size="25" text-anchor="middle" fill="#111" stroke="#111" stroke-width="0.22" >Ref</text>
<line x1="1143.3" y1="2043.9" x2="1143.3" y2="2049.4" stroke="#4d4d4d" stroke-width="1.8" />
<text x="1141.5" y="2078.2" font-size="25" text-anchor="middle" fill="#111" stroke="#111" stroke-width="0.22" >24H</text>
<line x1="1240.8" y1="2043.9" x2="1240.8" y2="2049.4" stroke="#4d4d4d" stroke-width="1.8" />
<text x="1239" y="2078.2" font-size="25" text-anchor="middle" fill="#111" stroke="#111" stroke-width="0.22" >48H</text>
<line x1="1337.8" y1="2043.9" x2="1337.8" y2="2049.4" stroke="#4d4d4d" stroke-width="1.8" />
<text x="1336" y="2078.2" font-size="25" text-anchor="middle" fill="#111" stroke="#111" stroke-width="0.22" >72H</text>
<polyline points="1046.9,1784.7 1143.3,1784.7 1240.8,1786.1 1337.8,1786.7" fill="none" stroke="#262626" stroke-width="1.9" stroke-linejoin="round" />
<path d="M1046.9,1777.1L1054.2,1791.5L1039.6,1791.5Z" fill="#14d487"/>
<path d="M1143.3,1777.1L1150.6,1791.5L1136,1791.5Z" fill="#14d487"/>
<path d="M1240.8,1778.5L1248.1,1792.9L1233.5,1792.9Z" fill="#14d487"/>
<path d="M1337.8,1779.1L1345.1,1793.5L1330.5,1793.5Z" fill="#14d487"/>
<polyline points="1046.9,1901.4 1143.3,1887.5 1240.8,1883.3 1337.8,1881.1" fill="none" stroke="#262626" stroke-width="1.9" stroke-linejoin="round" />
<path d="M1046.9,1893.8L1054.2,1908.2L1039.6,1908.2Z" fill="#14d487"/>
<path d="M1143.3,1879.9L1150.6,1894.3L1136,1894.3Z" fill="#14d487"/>
<path d="M1240.8,1875.7L1248.1,1890.1L1233.5,1890.1Z" fill="#14d487"/>
<path d="M1337.8,1873.5L1345.1,1887.9L1330.5,1887.9Z" fill="#14d487"/>
<polyline points="1046.9,1942.2 1143.3,1936.7 1240.8,1930.6 1337.8,1924.4" fill="none" stroke="#262626" stroke-width="1.9" stroke-linejoin="round" />
<path d="M1046.9,1934.6L1054.2,1949L1039.6,1949Z" fill="#14d487"/>
<path d="M1143.3,1929.1L1150.6,1943.5L1136,1943.5Z" fill="#14d487"/>
<path d="M1240.8,1923L1248.1,1937.4L1233.5,1937.4Z" fill="#14d487"/>
<path d="M1337.8,1916.8L1345.1,1931.2L1330.5,1931.2Z" fill="#14d487"/>
<polyline points="1046.9,1978.3 1143.3,1966.1 1240.8,1964.4 1337.8,1967.2" fill="none" stroke="#262626" stroke-width="1.9" stroke-linejoin="round" />
<path d="M1046.9,1970.7L1054.2,1985.1L1039.6,1985.1Z" fill="#14d487"/>
<path d="M1143.3,1958.5L1150.6,1972.9L1136,1972.9Z" fill="#14d487"/>
<path d="M1240.8,1956.8L1248.1,1971.2L1233.5,1971.2Z" fill="#14d487"/>
<path d="M1337.8,1959.6L1345.1,1974L1330.5,1974Z" fill="#14d487"/>
<polyline points="1046.9,1993.9 1143.3,1997.8 1240.8,1993.1 1337.8,2001.4" fill="none" stroke="#262626" stroke-width="1.9" stroke-linejoin="round" />
<path d="M1046.9,1986.3L1054.2,2000.7L1039.6,2000.7Z" fill="#14d487"/>
<path d="M1143.3,1990.2L1150.6,2004.6L1136,2004.6Z" fill="#14d487"/>
<path d="M1240.8,1985.5L1248.1,1999.9L1233.5,1999.9Z" fill="#14d487"/>
<path d="M1337.8,1993.8L1345.1,2008.2L1330.5,2008.2Z" fill="#14d487"/>
<text x="1098.8" y="1639.9" font-size="24.5" font-weight="bold" fill="#111" stroke="#111" stroke-width="0.4" textLength="181.01" lengthAdjust="spacingAndGlyphs">RM-ANOVA test</text>
<text x="1153" y="1669.4" font-size="24.5" font-weight="bold" fill="#111" stroke="#111" stroke-width="0.4" textLength="73.21" lengthAdjust="spacingAndGlyphs">P=0.51</text>
<text transform="translate(928.5,1974.1) rotate(-90)" x="0" y="0" font-size="27.3" fill="#111" stroke="#111" stroke-width="0.22" textLength="217.50" lengthAdjust="spacingAndGlyphs">uCXCL10 (pg/mL)</text>
<line x1="1401.5" y1="1943.5" x2="1401.5" y2="1975.7" stroke="#e6e6e6" stroke-width="1"/>
<line x1="1455.9" y1="1943.5" x2="1455.9" y2="1975.7" stroke="#e6e6e6" stroke-width="1"/>
<line x1="1401.5" y1="1943.5" x2="1455.9" y2="1943.5" stroke="#bdbdbd" stroke-width="1.3"/>
<line x1="1401.5" y1="1975.7" x2="1455.9" y2="1975.7" stroke="#bdbdbd" stroke-width="1.3"/>
<line x1="1394.5" y1="2029.4" x2="1394.5" y2="2062.1" stroke="#e6e6e6" stroke-width="1"/>
<line x1="1458.7" y1="2029.4" x2="1458.7" y2="2062.1" stroke="#e6e6e6" stroke-width="1"/>
<line x1="1394.5" y1="2029.4" x2="1458.7" y2="2029.4" stroke="#bdbdbd" stroke-width="1.3"/>
<line x1="1394.5" y1="2062.1" x2="1458.7" y2="2062.1" stroke="#bdbdbd" stroke-width="1.3"/>
<line x1="1459" y1="2043.7" x2="1760.2" y2="2043.7" stroke="#666" stroke-width="2.6" />
<line x1="1464.5" y1="1687.8" x2="1464.5" y2="2044.7" stroke="#2a2a2a" stroke-width="2.0" />
<line x1="1458.5" y1="1688.7" x2="1464.5" y2="1688.7" stroke="#4d4d4d" stroke-width="1.8" />
<text x="1455" y="1697.7" font-size="25" text-anchor="end" fill="#111" stroke="#111" stroke-width="0.22" >200</text>
<line x1="1458.5" y1="1759.7" x2="1464.5" y2="1759.7" stroke="#4d4d4d" stroke-width="1.8" />
<text x="1455" y="1768.7" font-size="25" text-anchor="end" fill="#111" stroke="#111" stroke-width="0.22" >150</text>
<line x1="1458.5" y1="1830.7" x2="1464.5" y2="1830.7" stroke="#4d4d4d" stroke-width="1.8" />
<text x="1455" y="1839.7" font-size="25" text-anchor="end" fill="#111" stroke="#111" stroke-width="0.22" >100</text>
<line x1="1458.5" y1="1901.7" x2="1464.5" y2="1901.7" stroke="#4d4d4d" stroke-width="1.8" />
<text x="1455" y="1910.7" font-size="25" text-anchor="end" fill="#111" stroke="#111" stroke-width="0.22" >50</text>
<line x1="1458.5" y1="1972.7" x2="1464.5" y2="1972.7" stroke="#4d4d4d" stroke-width="1.8" />
<text x="1454" y="1980.7" font-size="25" text-anchor="end" fill="#111" stroke="#111" stroke-width="0.22" >0</text>
<line x1="1458.5" y1="2043.7" x2="1464.5" y2="2043.7" stroke="#4d4d4d" stroke-width="1.8" />
<text x="1455" y="2052.7" font-size="25" text-anchor="end" fill="#111" stroke="#111" stroke-width="0.22" >-50</text>
<line x1="1464.5" y1="2043.7" x2="1464.5" y2="2049.7" stroke="#4d4d4d" stroke-width="1.8" />
<text x="1464.2" y="2078.2" font-size="25" text-anchor="middle" fill="#111" stroke="#111" stroke-width="0.22" >Ref</text>
<line x1="1553.7" y1="2043.7" x2="1553.7" y2="2049.7" stroke="#4d4d4d" stroke-width="1.8" />
<text x="1552.7" y="2078.2" font-size="25" text-anchor="middle" fill="#111" stroke="#111" stroke-width="0.22" >24H</text>
<line x1="1641.4" y1="2043.7" x2="1641.4" y2="2049.7" stroke="#4d4d4d" stroke-width="1.8" />
<text x="1640.4" y="2078.2" font-size="25" text-anchor="middle" fill="#111" stroke="#111" stroke-width="0.22" >48H</text>
<line x1="1730.6" y1="2043.7" x2="1730.6" y2="2049.7" stroke="#4d4d4d" stroke-width="1.8" />
<text x="1729.6" y="2078.2" font-size="25" text-anchor="middle" fill="#111" stroke="#111" stroke-width="0.22" >72H</text>
<line x1="1464.5" y1="1972.3" x2="1761.2" y2="1972.3" stroke="#9a9a9a" stroke-width="1.8" />
<polyline points="1464.5,1972.7 1553.7,1924.4 1641.4,1910.4 1730.6,1902.9" fill="none" stroke="#5c5c5c" stroke-width="1.45" stroke-linejoin="round" />
<polyline points="1464.5,1972.7 1553.7,1930.9 1641.4,1926.7 1730.6,1935.4" fill="none" stroke="#5c5c5c" stroke-width="1.45" stroke-linejoin="round" />
<polyline points="1464.5,1972.7 1553.7,1952.9 1641.4,1931.4 1730.6,1912.7" fill="none" stroke="#5c5c5c" stroke-width="1.45" stroke-linejoin="round" />
<polyline points="1464.5,1972.7 1553.7,1970.6 1641.4,1974.6 1730.6,1976.9" fill="none" stroke="#5c5c5c" stroke-width="1.45" stroke-linejoin="round" />
<polyline points="1464.5,1972.7 1553.7,1980.9 1641.4,1969.2 1730.6,1988.6" fill="none" stroke="#5c5c5c" stroke-width="1.45" stroke-linejoin="round" />
<polyline points="1464.5,1972.7 1553.7,1952.9 1641.4,1943 1730.6,1943" fill="none" stroke="#14d487" stroke-width="3.6" stroke-linejoin="round" stroke-dasharray="13,5.2" stroke-linecap="butt"/>
<text x="1513.3" y="1639.7" font-size="24.5" font-weight="bold" fill="#111" stroke="#111" stroke-width="0.4" textLength="205.10" lengthAdjust="spacingAndGlyphs">Mean intra-patient</text>
<text x="1551.4" y="1669.8" font-size="24.5" font-weight="bold" fill="#111" stroke="#111" stroke-width="0.4" textLength="127.29" lengthAdjust="spacingAndGlyphs">CV=10.41%</text>
<text transform="translate(1400,1995.6) rotate(-90)" x="0" y="0" font-size="27.3" fill="#111" stroke="#111" stroke-width="0.22" textLength="261.69" lengthAdjust="spacingAndGlyphs">uCXCL10 (% change)</text>
</svg>
</body></html>
